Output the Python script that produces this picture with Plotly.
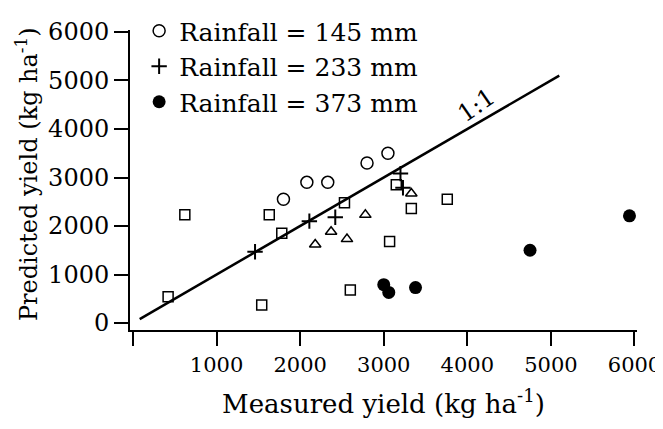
import plotly.graph_objects as go

# ---- data ----
rain145_x = [1800, 2080, 2330, 2800, 3050]
rain145_y = [2550, 2900, 2900, 3300, 3500]

rain233_x = [1460, 2110, 2420, 3200, 3230]
rain233_y = [1470, 2100, 2180, 3080, 2790]

rain373_x = [3000, 3060, 3380, 4750, 5940]
rain373_y = [790, 630, 730, 1500, 2210]

square_x = [420, 620, 1540, 1630, 1780, 2530, 2600, 3070, 3150, 3330, 3760]
square_y = [540, 2230, 370, 2230, 1850, 2480, 680, 1680, 2850, 2360, 2550]

triangle_x = [2180, 2370, 2560, 2780, 3330]
triangle_y = [1620, 1880, 1730, 2230, 2670]

one_to_one = [80, 5100]

legend_names = ["Rainfall = 145 mm", "Rainfall = 233 mm", "Rainfall = 373 mm"]
tick_vals = [0, 1000, 2000, 3000, 4000, 5000, 6000]
x_tick_text = ["", "1000", "2000", "3000", "4000", "5000", "6000"]
y_tick_text = ["0", "1000", "2000", "3000", "4000", "5000", "6000"]

FONT = "DejaVu Serif"

fig = go.Figure()

fig.add_trace(go.Scatter(x=one_to_one, y=one_to_one, mode="lines",
                         line=dict(color="black", width=2.5),
                         showlegend=False, hoverinfo="skip"))

fig.add_trace(go.Scatter(x=square_x, y=square_y, mode="markers",
                         marker=dict(symbol="square-open", size=10, color="black",
                                     line=dict(width=1.5, color="black")),
                         showlegend=False))
fig.add_trace(go.Scatter(x=triangle_x, y=triangle_y, mode="markers",
                         marker=dict(symbol="triangle-up-open", size=10, color="black",
                                     line=dict(width=1.5, color="black")),
                         showlegend=False))

fig.add_trace(go.Scatter(x=rain145_x, y=rain145_y, mode="markers", name=legend_names[0],
                         legendgroup="a",
                         marker=dict(symbol="circle-open", size=12, color="black",
                                     line=dict(width=1.5, color="black"))))
fig.add_trace(go.Scatter(x=rain233_x, y=rain233_y, mode="markers", name=legend_names[1],
                         legendgroup="b",
                         marker=dict(symbol="cross-thin", size=11, color="black",
                                     line=dict(width=2, color="black"))))
fig.add_trace(go.Scatter(x=rain373_x, y=rain373_y, mode="markers", name=legend_names[2],
                         legendgroup="c",
                         marker=dict(symbol="circle", size=13, color="black")))

fig.add_annotation(x=4115, y=4495, text="1:1", showarrow=False, textangle=-35,
                   font=dict(family=FONT, size=24, color="black"))

# y-axis title placed as a rotated annotation for exact positioning
fig.add_annotation(text="Predicted yield (kg ha<sup>-1</sup>)", textangle=-90,
                   xref="paper", yref="paper", x=-0.203, y=0.52,
                   xanchor="center", yanchor="middle", showarrow=False,
                   font=dict(family=FONT, size=24, color="black"))

fig.update_layout(
    width=663, height=429,
    margin=dict(l=122, r=34, t=22, b=107, autoexpand=False),
    paper_bgcolor="white", plot_bgcolor="white",
    font=dict(family=FONT, color="black"),
    showlegend=True,
    legend=dict(x=0.018, y=1.0, xref="paper", yref="container",
                xanchor="left", yanchor="top",
                font=dict(family=FONT, size=25, color="black"),
                bgcolor="rgba(0,0,0,0)", traceorder="grouped", tracegroupgap=0,
                itemsizing="trace"),
    xaxis=dict(range=[-36, 6030], showgrid=False, zeroline=False, automargin=False,
               showline=True, linecolor="black", linewidth=2,
               ticks="outside", ticklen=14, tickwidth=2, tickcolor="black",
               tickvals=tick_vals, ticktext=x_tick_text, ticklabelstandoff=1,
               ticklabeloverflow="allow",
               tickfont=dict(family=FONT, size=21, color="black"),
               title=dict(text="Measured yield (kg ha<sup>-1</sup>)", standoff=19,
                          font=dict(family=FONT, size=26, color="black"))),
    yaxis=dict(range=[-144, 6041], showgrid=False, zeroline=False, automargin=False,
               showline=True, linecolor="black", linewidth=2,
               ticks="outside", ticklen=14, tickwidth=2, tickcolor="black",
               tickvals=tick_vals, ticktext=y_tick_text,
               tickfont=dict(family=FONT, size=24, color="black")),
)

fig.write_html("out.html")
